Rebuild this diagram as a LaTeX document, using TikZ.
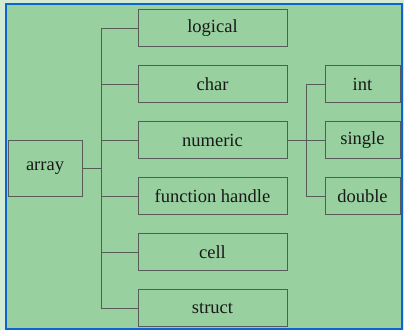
\documentclass[tikz,border=0pt]{standalone}
\usepackage{fontspec}
\setmainfont{Liberation Serif}
\definecolor{outerbg}{RGB}{210,236,212}
\definecolor{innerbg}{RGB}{153,208,160}
\definecolor{frameblue}{RGB}{14,100,210}
\definecolor{linegray}{RGB}{88,92,88}
\begin{document}
\begin{tikzpicture}[x=1pt, y=-1pt,
    typebox/.style={draw=linegray, line width=1pt, minimum height=37pt, inner sep=0pt,
        font=\rmfamily\fontsize{18.5}{21}\selectfont, text=black!90},
    midbox/.style={typebox, minimum width=149pt},
    subbox/.style={typebox, minimum width=75pt},
    branch/.style={draw=linegray, line width=1pt}]
    \fill[outerbg] (0,0) rectangle (404,330);
    \draw[fill=innerbg, draw=frameblue, line width=2pt] (6,4) rectangle (402,329);
    % root
    \node[typebox, minimum width=74pt, minimum height=56pt] (arr) at (45,168) {array};
    % first level
    \node[midbox] (logical) at (212.5,28) {logical};
    \node[midbox] (char) at (212.5,84) {char};
    \node[midbox] (numeric) at (212.5,140) {numeric};
    \node[midbox] (fhandle) at (212.5,196) {function handle};
    \node[midbox] (cell) at (212.5,252) {cell};
    \node[midbox] (struct) at (212.5,308) {struct};
    % numeric types
    \node[subbox] (int) at (362.5,84) {int};
    \node[subbox] (single) at (362.5,140) {single};
    \node[subbox] (double) at (362.5,196) {double};
    \coordinate (spine) at (101,168);
    \coordinate (subspine) at (306,140);
    \draw[branch] (arr.east) -- (spine);
    \foreach \child in {logical, char, numeric, fhandle, cell, struct}
        \draw[branch] (spine) |- (\child.west);
    \draw[branch] (numeric.east) -- (subspine);
    \foreach \child in {int, single, double}
        \draw[branch] (subspine) |- (\child.west);
\end{tikzpicture}
\end{document}
